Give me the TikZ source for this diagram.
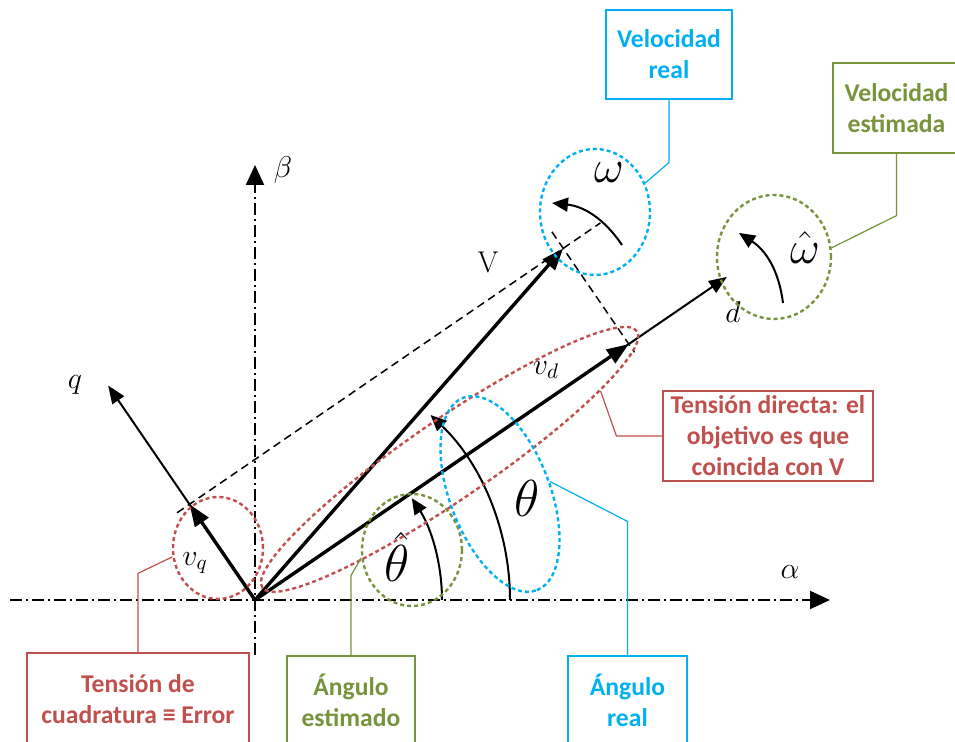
\documentclass[tikz,border=0pt]{standalone}
\usepackage{fix-cm}
\usepackage{amsmath}
\usepackage{fontspec}
\setsansfont{Carlito}
\usetikzlibrary{arrows.meta,shapes.geometric,calc}
\definecolor{realblue}{RGB}{0,176,240}
\definecolor{estgreen}{RGB}{119,147,60}
\definecolor{errred}{RGB}{192,80,77}

\begin{document}
\begin{tikzpicture}[x=0.5pt,y=0.5pt,>={Triangle[length=11pt,width=8pt]},
  axis/.style={line width=1pt,dash pattern=on 6pt off 2pt on 1pt off 2pt,-{Triangle[length=10pt,width=9pt]}},
  frame/.style={line width=1pt,-{Triangle[length=9pt,width=7pt]}},
  vec/.style={->,line width=1.7pt},
  guide/.style={line width=0.75pt,dash pattern=on 4pt off 2.5pt},
  turn/.style={line width=1pt,-{Triangle[length=8pt,width=7pt]}},
  ring/.style={ellipse,draw=#1,line width=1.2pt,dash pattern=on 2pt off 1.5pt,inner sep=0pt},
  callout/.style={draw=#1,text=#1,line width=0.6pt,inner sep=0pt,align=center,
    font=\sffamily\bfseries\fontsize{12.8}{15.5}\selectfont},
  lead/.style={draw=#1,line width=0.6pt},
  lbl/.style={font=\fontsize{15}{18}\selectfont},
  big/.style={font=\fontsize{26}{30}\selectfont},
  spin/.style={font=\fontsize{23}{27}\selectfont}]
\useasboundingbox (-255,-142) rectangle (700,600);
\clip (-255,-142) rectangle (700,600);

\coordinate (o) at (0,0);
\coordinate (aw) at (-245,0);
\coordinate (ae) at (575,0);
\coordinate (bs) at (0,-55);
\coordinate (bn) at (0,435);
\coordinate (qa) at (124.4:260);
\coordinate (da) at (34.4:572);
\coordinate (vd) at (34.4:453);
\coordinate (vq) at (124.4:116);
\coordinate (v) at ($(vd)+(vq)$);
\coordinate (g1) at ($(vq)+(214.4:15)$);
\coordinate (g2) at ($(v)+(34.4:45)$);
\coordinate (g3) at ($(v)+(124.4:20)$);
\coordinate (g4) at ($(vd)+(304.4:10)$);

\draw[axis] (aw) -- (ae);
\draw[axis] (bs) -- (bn);
\draw[frame] (o) -- (qa);
\draw[frame] (o) -- (da);
\draw[guide] (g1) -- (g2);
\draw[guide] (g3) -- (g4);
\draw[vec] (o) -- (vq);
\draw[vec] (o) -- (vd);
\draw[vec] (o) -- (v);
\draw[turn] (187,0) arc[start angle=0,end angle=33,radius=187];
\draw[turn] (255,0) arc[start angle=0,end angle=46.5,radius=255];
\draw[turn] (367,355) to[bend right=25] (297,397);
\draw[turn] (528,297) to[bend right=25] (484,367);

\node[lbl] (la) at (535,28) {$\alpha$};
\node[lbl] (lb) at (28,430) {$\beta$};
\node[lbl] (lq) at (-180,215) {$q$};
\node[lbl] (ld) at (478,288) {$d$};
\node[lbl] (lv) at (233,337) {V};
\node[lbl] (lvd) at (291,230) {$v_d$};
\node[lbl] (lvq) at (-60,37) {$v_q$};
\node[big] (lth) at (272,102) {$\theta$};
\node[big] (lthh) at (142,43) {$\hat{\theta}$};
\node[spin] (lw) at (354,427) {$\omega$};
\node[spin] (lwh) at (550,352) {$\hat{\omega}$};

\node[ring=realblue,minimum width=55pt,minimum height=63pt] (ew) at (340,388) {};
\node[ring=estgreen,minimum width=57pt,minimum height=62pt] (ewh) at (519,343) {};
\node[ring=errred,minimum width=45pt,minimum height=51pt] (evq) at (-37,52) {};
\node[ring=estgreen,minimum width=50pt,minimum height=56pt] (eth) at (157,50) {};
\node[ring=errred,rotate=34.4,minimum width=227pt,minimum height=40pt] (evd) at (194.6,140.6) {};
\node[ring=realblue,rotate=-69,minimum width=103pt,minimum height=50pt] (etr) at (245,106) {};

\node[callout=realblue,minimum width=63pt,minimum height=44.5pt] (bvr) at (414,545.5) {Velocidad\\real};
\node[callout=estgreen,minimum width=63.5pt,minimum height=45pt] (bve) at (641.5,492) {Velocidad\\estimada};
\node[callout=errred,minimum width=105pt,minimum height=45pt] (btd) at (513,164) {Tensión directa: el\\objetivo es que\\coincida con V};
\node[callout=realblue,minimum width=59.5pt,minimum height=44pt] (bar) at (372.5,-100) {Ángulo\\real};
\node[callout=estgreen,minimum width=64pt,minimum height=44pt] (bae) at (96,-100) {Ángulo\\estimado};
\node[callout=errred,minimum width=111pt,minimum height=46pt] (btc) at (-117,-99) {Tensión de\\cuadratura ≡ Error};

\draw[lead=realblue] (bvr.south) -- ++(0,-63) -- (ew.30);
\draw[lead=estgreen] (bve.south) -- ++(0,-62) -- (ewh.9);
\draw[lead=errred] (btd.west) -- ++(-46,0) -- (evd.-10);
\draw[lead=realblue] (bar.north) -- ++(0,134) -- (etr.83);
\draw[lead=estgreen] (bae.north) -- ++(0,80) -- (eth.189);
\draw[lead=errred] (btc.north) -- ++(0,79) -- (evq.191);
\end{tikzpicture}
\end{document}
